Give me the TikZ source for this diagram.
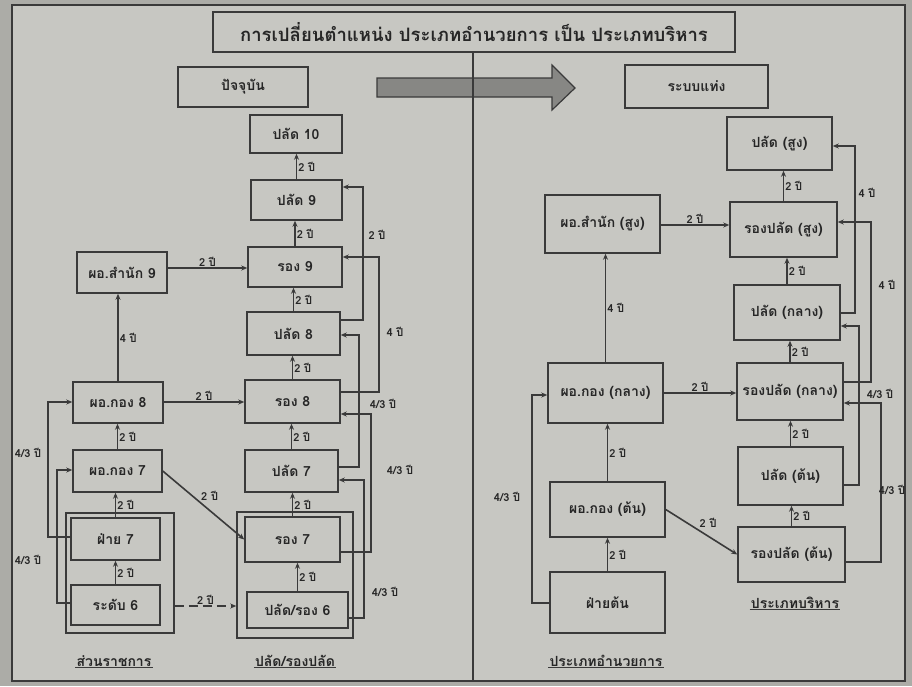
\documentclass[tikz,border=0pt]{standalone}
\usepackage{fontspec}
\newfontfamily\thai[Script=Thai]{Loma}
\usetikzlibrary{arrows.meta}
\definecolor{paper}{RGB}{199,199,194}
\definecolor{outerc}{RGB}{172,172,167}
\definecolor{ln}{RGB}{58,58,58}
\definecolor{tx}{RGB}{38,38,38}
\definecolor{arrowfill}{RGB}{135,135,132}
\tikzset{
 bx/.style={draw=ln, line width=1.5pt, inner sep=0pt, text=tx, font=\thai\bfseries\fontsize{14}{16}\selectfont},
 grp/.style={draw=ln, line width=1.5pt, inner sep=0pt},
 ar/.style={draw=ln, line width=1.6pt, -{Stealth[length=6pt,width=5pt]}},
 lab/.style={text=tx, inner sep=1pt, font=\thai\bfseries\fontsize{11}{12}\selectfont},
 capt/.style={text=tx, inner sep=1pt, font=\thai\bfseries\fontsize{14}{16}\selectfont},
 uline/.style={draw=ln, line width=1pt},
}
\begin{document}
\begin{tikzpicture}[x=1pt,y=-1pt]
\useasboundingbox (0,0) rectangle (912,686);
\fill[outerc] (0,0) rectangle (912,686);
\fill[paper] (12,5) rectangle (905,681);
\draw[ln, line width=1.5pt] (12,5) rectangle (905,681);

% title and headers
\node[bx, minimum width=522pt, minimum height=40pt, font=\thai\bfseries\fontsize{18.5}{20}\selectfont] (title) at (474,32) {การเปลี่ยนตำแหน่ง ประเภทอำนวยการ เป็น ประเภทบริหาร};
\node[bx, minimum width=130pt, minimum height=40pt] (now) at (243,87) {ปัจจุบัน};
\node[bx, minimum width=143pt, minimum height=43pt] (bars) at (696.5,86.5) {ระบบแท่ง};
\filldraw[fill=arrowfill, draw=ln, line width=1.2pt] (377,78) -- (552,78) -- (552,65) -- (575,88) -- (552,110) -- (552,97) -- (377,97) -- cycle;
\coordinate (divtop) at (473,52);
\coordinate (divbot) at (473,681);
\draw[ln, line width=1.5pt] (divtop) -- (divbot);

% left column
\node[bx, minimum width=90pt, minimum height=41pt] (D9) at (122,272.5) {ผอ.สำนัก 9};
\node[bx, minimum width=90pt, minimum height=41pt] (K8) at (118,402.5) {ผอ.กอง 8};
\node[bx, minimum width=89pt, minimum height=42pt] (K7) at (117.5,471) {ผอ.กอง 7};
\node[grp, minimum width=108pt, minimum height=120pt] (GL) at (120,573) {};
\node[bx, minimum width=89pt, minimum height=42pt] (F7) at (115.5,539) {ฝ่าย 7};
\node[bx, minimum width=89pt, minimum height=40pt] (L6) at (115.5,605) {ระดับ 6};
\node[capt] (capL) at (114,661) {ส่วนราชการ};
\draw[uline] (capL.south west) -- (capL.south east);

% middle column
\node[bx, minimum width=92pt, minimum height=38pt] (P10) at (296,134) {ปลัด 10};
\node[bx, minimum width=91pt, minimum height=40pt] (P9) at (296.5,200) {ปลัด 9};
\node[bx, minimum width=94pt, minimum height=40pt] (R9) at (295,267) {รอง 9};
\node[bx, minimum width=93pt, minimum height=43pt] (P8) at (293.5,333.5) {ปลัด 8};
\node[bx, minimum width=95pt, minimum height=43pt] (R8) at (292.5,401.5) {รอง 8};
\node[bx, minimum width=93pt, minimum height=42pt] (P7) at (291.5,471) {ปลัด 7};
\node[grp, minimum width=116pt, minimum height=126pt] (GM) at (295,575) {};
\node[bx, minimum width=95pt, minimum height=45pt] (R7) at (292.5,539.5) {รอง 7};
\node[bx, minimum width=101pt, minimum height=36pt] (P6) at (297.5,610) {ปลัด/รอง 6};
\node[capt] (capM) at (295,661) {ปลัด/รองปลัด};
\draw[uline] (capM.south west) -- (capM.south east);

% right side
\node[bx, minimum width=105pt, minimum height=53pt] (PS) at (779.5,143.5) {ปลัด (สูง)};
\node[bx, minimum width=115pt, minimum height=58pt] (DS) at (602.5,224) {ผอ.สำนัก (สูง)};
\node[bx, minimum width=107pt, minimum height=55pt] (RS) at (783.5,229.5) {รองปลัด (สูง)};
\node[bx, minimum width=106pt, minimum height=55pt] (PM) at (787,312.5) {ปลัด (กลาง)};
\node[bx, minimum width=115pt, minimum height=60pt] (KM) at (605.5,393) {ผอ.กอง (กลาง)};
\node[bx, minimum width=106pt, minimum height=57pt] (RM) at (790,391.5) {รองปลัด (กลาง)};
\node[bx, minimum width=105pt, minimum height=58pt] (PL) at (790.5,476) {ปลัด (ต้น)};
\node[bx, minimum width=115pt, minimum height=55pt] (KL) at (607.5,509.5) {ผอ.กอง (ต้น)};
\node[bx, minimum width=107pt, minimum height=55pt] (RL) at (791.5,554.5) {รองปลัด (ต้น)};
\node[bx, minimum width=115pt, minimum height=61pt] (FR) at (607.5,602.5) {ฝ่ายต้น};
\node[capt] (capR1) at (795,603) {ประเภทบริหาร};
\draw[uline] (capR1.south west) -- (capR1.south east);
\node[capt] (capR2) at (606,661) {ประเภทอำนวยการ};
\draw[uline] (capR2.south west) -- (capR2.south east);

% left column connectors
\draw[ar] (D9.east |- 0,268) -- (R9.west |- 0,268) node[lab, midway, above] (a1) {2 ปี};
\draw[ar] (K8.north) -- (K8.north |- D9.south) node[lab, midway, right] (a2) {4 ปี};
\draw[ar] (K8.east |- 0,402) -- (R8.west |- 0,402) node[lab, midway, above] (a3) {2 ปี};
\draw[ar] (K7.north) -- (K7.north |- K8.south) node[lab, midway, right] (a4) {2 ปี};
\draw[ar] (F7.north) -- (F7.north |- K7.south) node[lab, midway, right] (a5) {2 ปี};
\draw[ar] (L6.north) -- (L6.north |- F7.south) node[lab, midway, right] (a6) {2 ปี};
\draw[ar] (K7.east) -- (R7.west) node[lab, pos=0.45, above right] (a7) {2 ปี};
\draw[ar, dashed, dash pattern=on 9pt off 5pt] (GL.east |- 0,606) -- (GM.west |- 0,606) node[lab, midway, above] (a8) {2 ปี};
\draw[ar] (F7.west |- 0,537) -- (48,537) -- (48,402) -- (K8.west |- 0,402);
\draw[ar] (L6.west |- 0,603) -- (57,603) -- (57,470) -- (K7.west |- 0,470);
\node[lab] (a9) at (28,453) {4/3 ปี};
\node[lab] (a10) at (28,560) {4/3 ปี};

% middle column connectors
\draw[ar] (P9.north) -- (P9.north |- P10.south) node[lab, midway, right] (b1) {2 ปี};
\draw[ar] (R9.north) -- (R9.north |- P9.south) node[lab, midway, right] (b2) {2 ปี};
\draw[ar] (P8.north) -- (P8.north |- R9.south) node[lab, midway, right] (b3) {2 ปี};
\draw[ar] (R8.north) -- (R8.north |- P8.south) node[lab, midway, right] (b4) {2 ปี};
\draw[ar] (P7.north) -- (P7.north |- R8.south) node[lab, midway, right] (b5) {2 ปี};
\draw[ar] (R7.north) -- (R7.north |- P7.south) node[lab, midway, right] (b6) {2 ปี};
\draw[ar] (P6.north) -- (P6.north |- R7.south) node[lab, midway, right] (b7) {2 ปี};
\draw[ar] (P8.east |- 0,320) -- (363,320) -- (363,187) -- (P9.east |- 0,187);
\draw[ar] (R8.east |- 0,392) -- (379,392) -- (379,257) -- (R9.east |- 0,257);
\draw[ar] (P7.east |- 0,467) -- (359,467) -- (359,335) -- (P8.east |- 0,335);
\draw[ar] (R7.east |- 0,552) -- (371,552) -- (371,414) -- (R8.east |- 0,414);
\draw[ar] (P6.east |- 0,618) -- (364,618) -- (364,480) -- (P7.east |- 0,480);
\node[lab] (b8) at (377,235) {2 ปี};
\node[lab] (b9) at (395,332) {4 ปี};
\node[lab] (b10) at (383,404) {4/3 ปี};
\node[lab] (b11) at (400,470) {4/3 ปี};
\node[lab] (b12) at (385,592) {4/3 ปี};

% right side connectors
\draw[ar] (RS.north) -- (RS.north |- PS.south) node[lab, midway, right] (c1) {2 ปี};
\draw[ar] (PM.north) -- (PM.north |- RS.south) node[lab, midway, right] (c2) {2 ปี};
\draw[ar] (RM.north) -- (RM.north |- PM.south) node[lab, midway, right] (c3) {2 ปี};
\draw[ar] (PL.north) -- (PL.north |- RM.south) node[lab, midway, right] (c4) {2 ปี};
\draw[ar] (RL.north) -- (RL.north |- PL.south) node[lab, midway, right] (c5) {2 ปี};
\draw[ar] (DS.east |- 0,225) -- (RS.west |- 0,225) node[lab, midway, above] (c6) {2 ปี};
\draw[ar] (KM.north) -- (KM.north |- DS.south) node[lab, midway, right] (c7) {4 ปี};
\draw[ar] (KM.east |- 0,393) -- (RM.west |- 0,393) node[lab, midway, above] (c8) {2 ปี};
\draw[ar] (KL.north) -- (KL.north |- KM.south) node[lab, midway, right] (c9) {2 ปี};
\draw[ar] (FR.north) -- (FR.north |- KL.south) node[lab, midway, right] (c10) {2 ปี};
\draw[ar] (KL.east) -- (RL.west) node[lab, pos=0.45, above right] (c11) {2 ปี};
\draw[ar] (FR.west |- 0,603) -- (532,603) -- (532,395) -- (KM.west |- 0,395);
\node[lab] (c12) at (507,497) {4/3 ปี};
\draw[ar] (PM.east |- 0,313) -- (855,313) -- (855,146) -- (PS.east |- 0,146);
\draw[ar] (RM.east |- 0,382) -- (871,382) -- (871,222) -- (RS.east |- 0,222);
\draw[ar] (PL.east |- 0,485) -- (859,485) -- (859,326) -- (PM.east |- 0,326);
\draw[ar] (RL.east |- 0,562) -- (881,562) -- (881,403) -- (RM.east |- 0,403);
\node[lab] (c13) at (867,193) {4 ปี};
\node[lab] (c14) at (887,285) {4 ปี};
\node[lab] (c15) at (880,394) {4/3 ปี};
\node[lab] (c16) at (892,490) {4/3 ปี};
\end{tikzpicture}
\end{document}
